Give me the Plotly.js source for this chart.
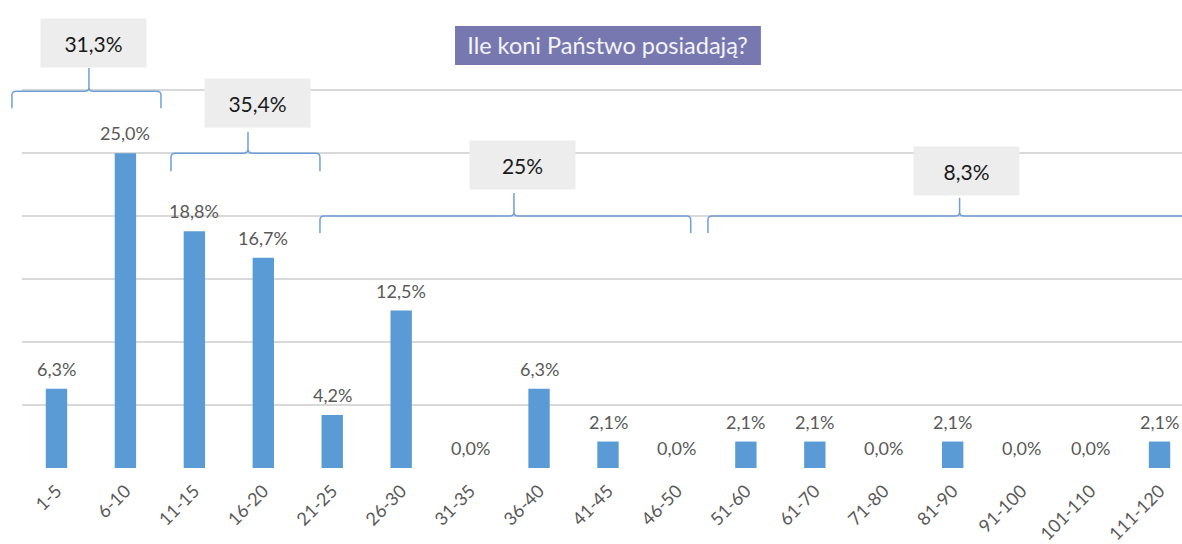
<!DOCTYPE html>
<html>
<head>
<meta charset="utf-8">
<script src="https://cdn.plot.ly/plotly-3.0.1.min.js"></script>
<style>html,body{margin:0;padding:0;background:#fff;}#chart{width:1182px;height:544px;}</style>
</head>
<body>
<div id="chart"></div>
<script>
// ---- data ----
const categories = ['1-5','6-10','11-15','16-20','21-25','26-30','31-35','36-40','41-45','46-50','51-60','61-70','71-80','81-90','91-100','101-110','111-120'];
const shares = [6.3, 25.0, 18.8, 16.7, 4.2, 12.5, 0.0, 6.3, 2.1, 0.0, 2.1, 2.1, 0.0, 2.1, 0.0, 0.0, 2.1];
const groupLabels = ['31,3%', '35,4%', '25%', '8,3%'];
const titleText = 'Ile koni Państwo posiadają?';

// ---- layout helpers (decoration geometry) ----
const FONT = 'Lato, "Open Sans", sans-serif';
const idx = categories.map((c, i) => i);
const fmt = v => v.toFixed(1).replace('.', ',') + '%';
const XR = [-0.5, 16.326], YR = [0, 37];
const px = x => (x - XR[0]) / (XR[1] - XR[0]);
const py = y => (y - YR[0]) / (YR[1] - YR[0]);

// brace geometry: [x0, xm, x1, yLine, yEnd, yTip] in axis units
const braceGeom = [
  [-0.646, 0.471, 1.516, 29.92, 28.57, 31.75],
  [1.661, 2.778, 3.822, 25.0, 23.57, 26.67],
  [3.822, 6.636, 9.20, 20.0, 18.65, 21.83],
  [9.45, 13.10, 17.5, 20.0, 18.65, 21.45]
];
// label box centres [x, y] in axis units
const boxPos = [[0.537, 33.73], [2.916, 28.97], [6.76, 24.05], [13.2, 23.61]];

const rx = 0.06, ry = 0.32;
function bracePath(g) {
  const [x0, xm, x1, yl, ye, yt] = g;
  const P = (x, y) => `${px(x)},${py(y)}`;
  return `M ${P(x0, ye)} L ${P(x0, yl - ry)} Q ${P(x0, yl)} ${P(x0 + rx, yl)} ` +
         `L ${P(xm - rx, yl)} Q ${P(xm, yl)} ${P(xm, yl + ry)} L ${P(xm, yt)} ` +
         `M ${P(xm, yl + ry)} Q ${P(xm, yl)} ${P(xm + rx, yl)} ` +
         `L ${P(x1 - rx, yl)} Q ${P(x1, yl)} ${P(x1, yl - ry)} L ${P(x1, ye)}`;
}

const shapes = braceGeom.map(g => ({
  type: 'path', xref: 'paper', yref: 'paper', path: bracePath(g),
  line: {color: '#6f9fd8', width: 1.5}, layer: 'above'
}));
// title background
shapes.push({
  type: 'rect', xref: 'paper', yref: 'paper',
  x0: 0.3733, x1: 0.637, y0: 0.8648, y1: 0.9485,
  fillcolor: '#7878b0', line: {width: 0}, layer: 'above'
});

const annotations = [];
shares.forEach((v, i) => {
  annotations.push({
    x: i, y: v, xref: 'x', yref: 'y', text: fmt(v), showarrow: false,
    yanchor: 'bottom', yshift: 7,
    font: {family: FONT, size: 18, color: '#595959'}
  });
});
groupLabels.forEach((t, k) => {
  annotations.push({
    x: boxPos[k][0], y: boxPos[k][1], xref: 'x', yref: 'y', text: t, showarrow: false,
    xanchor: 'center', yanchor: 'middle', width: 103, height: 46, borderpad: 1,
    bgcolor: '#ededed', font: {family: FONT, size: 21, color: '#1a1a1a'}
  });
});

const trace = {
  type: 'bar', x: idx, y: shares, width: 0.31,
  marker: {color: '#5b9bd5'}, hoverinfo: 'skip', cliponaxis: false
};

const layout = {
  width: 1182, height: 544,
  margin: {l: 22, r: 0, t: 2, b: 76},
  paper_bgcolor: '#ffffff', plot_bgcolor: '#ffffff',
  showlegend: false,
  title: {
    text: titleText, xref: 'container', yref: 'container',
    x: 0.514, y: 0.916, xanchor: 'center', yanchor: 'middle',
    font: {family: FONT, size: 23.5, color: '#f4f4f8'}
  },
  xaxis: {
    type: 'linear', range: XR, tickmode: 'array',
    tickvals: idx, ticktext: categories, tickangle: -45,
    tickfont: {family: FONT, size: 18, color: '#595959'},
    ticklabelstandoff: 8,
    showgrid: false, zeroline: false, showline: false, ticks: '', fixedrange: true
  },
  yaxis: {
    range: YR, tickmode: 'array', tickvals: [0, 5, 10, 15, 20, 25, 30],
    showticklabels: false, gridcolor: '#d9d9d9', gridwidth: 1.5,
    zeroline: false, showline: false, ticks: '', fixedrange: true
  },
  shapes: shapes,
  annotations: annotations
};

Plotly.newPlot('chart', [trace], layout, {displayModeBar: false, staticPlot: true});
</script>
</body>
</html>
